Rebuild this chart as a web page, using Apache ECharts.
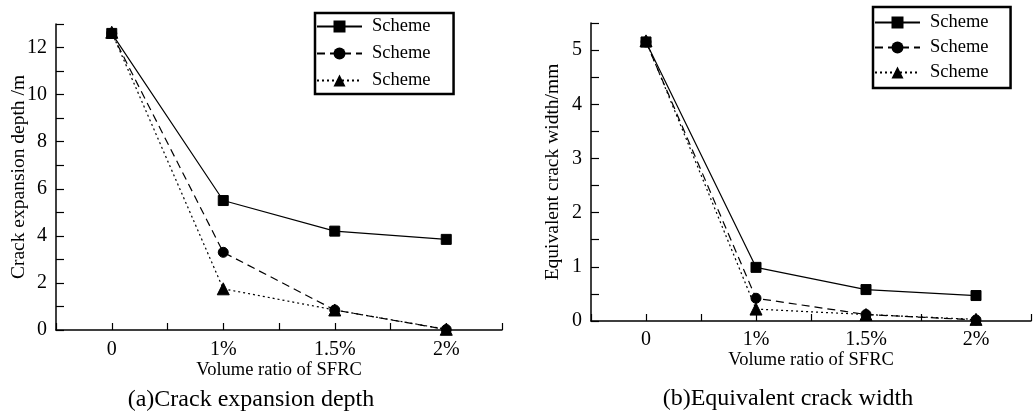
<!DOCTYPE html>
<html>
<head>
<meta charset="utf-8">
<script src="https://cdn.jsdelivr.net/npm/echarts@6/dist/echarts.min.js"></script>
<style>
html,body{margin:0;padding:0;background:#fff;}
#c{width:1034px;height:419px;}
</style>
</head>
<body>
<div id="c"></div>
<script>
// ---- data ----
const categories = ['0', '1%', '1.5%', '2%'];
const seriesNames = ['Scheme 1', 'Scheme 2', 'Scheme 3'];
const legendLabels = ['Scheme', 'Scheme', 'Scheme'];
const depthScheme1 = [12.6, 5.5, 4.2, 3.85];
const depthScheme2 = [12.6, 3.3, 0.85, 0.02];
const depthScheme3 = [12.65, 1.75, 0.85, 0.03];
const widthScheme1 = [5.15, 0.99, 0.58, 0.47];
const widthScheme2 = [5.15, 0.42, 0.12, 0.02];
const widthScheme3 = [5.17, 0.22, 0.12, 0.03];
const depthTicks = [0, 2, 4, 6, 8, 10, 12];
const widthTicks = [0, 1, 2, 3, 4, 5];
const titleA = '(a)Crack expansion depth';
const titleB = '(b)Equivalent crack width';
const xName = 'Volume ratio of SFRC';
const yNameA = 'Crack expansion depth /m';
const yNameB = 'Equivalent crack width/mm';

// ---- styles ----
const FONT = "'Liberation Serif', 'Times New Roman', serif";
const INK = '#000';
const symbols = ['rect', 'circle', 'triangle'];
const symbolSizes = [10, 10, 12];
const lineTypes = ['solid', [8, 5], [2, 3]];

function pairs(arr) { return arr.map((v, i) => [i, v]); }

function xAxisFor(gridIndex, labelMargin, nameGap) {
  return {
    gridIndex, type: 'value', min: -0.5, max: 3.5, interval: 0.5,
    name: xName, nameLocation: 'middle', nameGap, nameMoveOverlap: false,
    nameTextStyle: { fontFamily: FONT, fontSize: 18.5, color: INK },
    axisLine: { show: true, onZero: false, lineStyle: { color: INK, width: 1.5 } },
    axisTick: { show: true, inside: true, length: 7, lineStyle: { color: INK, width: 1.2 } },
    axisLabel: {
      margin: labelMargin, fontFamily: FONT, fontSize: 20, color: INK,
      formatter: v => (Math.abs(v - Math.round(v)) < 1e-9 && v >= 0 && v <= 3) ? categories[Math.round(v)] : ''
    },
    splitLine: { show: false }
  };
}
function yAxisFor(gridIndex, max, interval, ticks, name, nameGap) {
  return {
    gridIndex, type: 'value', min: 0, max, interval,
    name, nameLocation: 'middle', nameGap, nameMoveOverlap: false,
    nameTextStyle: { fontFamily: FONT, fontSize: 19.5, color: INK },
    axisLine: { show: true, onZero: false, lineStyle: { color: INK, width: 1.5 } },
    axisTick: { show: true, inside: true, length: 8, lineStyle: { color: INK, width: 1.2 } },
    axisLabel: {
      margin: 9, fontFamily: FONT, fontSize: 20, color: INK,
      formatter: v => ticks.some(t => Math.abs(t - v) < 1e-9) ? String(v) : ''
    },
    splitLine: { show: false }
  };
}
function makeSeries(idx, xi, data) {
  return {
    name: seriesNames[idx], type: 'line', xAxisIndex: xi, yAxisIndex: xi,
    data: pairs(data), symbol: symbols[idx], symbolSize: symbolSizes[idx],
    showSymbol: true, clip: false, animation: false,
    lineStyle: { color: INK, width: 1.2, type: lineTypes[idx] },
    itemStyle: { color: INK, borderColor: INK }
  };
}
function legendFor(left, top, gap, padding) {
  return {
    orient: 'vertical', left, top, padding, itemGap: gap,
    itemWidth: 45, itemHeight: 15,
    data: seriesNames.slice(),
    formatter: name => legendLabels[seriesNames.indexOf(name)],
    borderColor: INK, borderWidth: 2.5, backgroundColor: '#fff',
    selectedMode: false,
    textStyle: { fontFamily: FONT, fontSize: 18.5, color: INK, padding: [0, 0, 0, 5] }
  };
}

const chart = echarts.init(document.getElementById('c'), null, { renderer: 'canvas' });
chart.setOption({
  animation: false,
  backgroundColor: '#fff',
  grid: [
    { left: 56, top: 24, right: 532, bottom: 89 },
    { left: 591, top: 23, right: -7, bottom: 98 }
  ],
  xAxis: [xAxisFor(0, 10, 31), xAxisFor(1, 9, 30)],
  yAxis: [
    yAxisFor(0, 13, 1, depthTicks, yNameA, 27),
    yAxisFor(1, 5.5, 0.5, widthTicks, yNameB, 28)
  ],
  legend: [
    legendFor(315, 13, 8, [4, 23, 4, 1]),
    legendFor(873, 7, 6, [6, 22, 6, 1])
  ],
  series: [
    makeSeries(0, 0, depthScheme1),
    makeSeries(1, 0, depthScheme2),
    makeSeries(2, 0, depthScheme3),
    makeSeries(0, 1, widthScheme1),
    makeSeries(1, 1, widthScheme2),
    makeSeries(2, 1, widthScheme3)
  ],
  graphic: [
    { type: 'text', x: 251, y: 400, style: { text: titleA, fontFamily: FONT, fontSize: 24, fill: INK, align: 'center', verticalAlign: 'middle', textAlign: 'center', textVerticalAlign: 'middle' } },
    { type: 'text', x: 788, y: 399, style: { text: titleB, fontFamily: FONT, fontSize: 24, fill: INK, align: 'center', verticalAlign: 'middle', textAlign: 'center', textVerticalAlign: 'middle' } }
  ]
});
</script>
</body>
</html>
